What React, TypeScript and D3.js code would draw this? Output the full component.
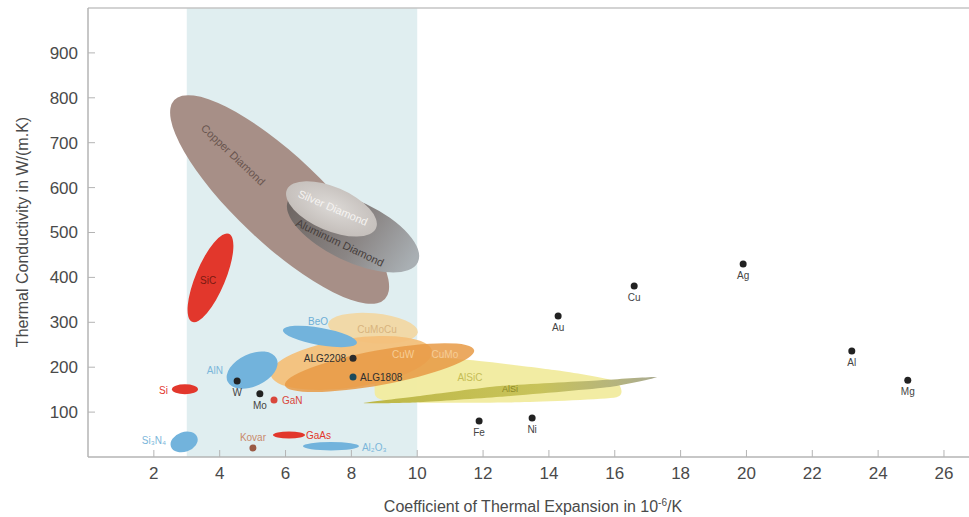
import React from "react";
import * as d3 from "d3";

// axis ticks
const xTicks = [2, 4, 6, 8, 10, 12, 14, 16, 18, 20, 22, 24, 26];
const yTicks = [100, 200, 300, 400, 500, 600, 700, 800, 900];

// shaded CTE window (semiconductor-matching range)
const bandFrom = 3;
const bandTo = 10;

// pure metals: CTE (10^-6/K) and conductivity (W/(m.K))
const metalNames = ["Fe", "Ni", "Au", "Cu", "Ag", "Al", "Mg", "W", "Mo"];
const metalCte = [11.88, 13.49, 14.28, 16.59, 19.9, 23.2, 24.9, 4.53, 5.22];
const metalK = [80, 87, 314, 381, 430, 236, 171, 169, 141];

// other single-value materials
const pointNames = ["GaN", "Kovar", "ALG2208", "ALG1808"];
const pointCte = [5.65, 5.01, 8.05, 8.05];
const pointK = [127, 20, 220, 178];

// elliptic property ranges, major axis from (cte0,k0) to (cte1,k1), breadth = minor/major
const regionNames = [
  "Copper Diamond", "Aluminum Diamond", "Silver Diamond", "SiC", "CuMoCu",
  "CuW", "CuMo", "BeO", "AlN", "Si", "Si3N4", "GaAs", "Al2O3",
];
const regionCte0 = [2.62, 6.08, 6.04, 3.16, 7.29, 5.55, 5.98, 5.92, 4.24, 2.55, 2.52, 5.62, 6.53];
const regionK0 = [795, 572, 595, 301, 296, 183, 160, 283, 168, 151, 23, 49, 24];
const regionCte1 = [9.02, 10.02, 8.75, 4.28, 10.02, 10.45, 11.73, 8.17, 5.73, 3.34, 3.32, 6.59, 8.23];
const regionK1 = [352, 434, 510, 497, 278, 236, 238, 254, 219, 151, 44, 49, 24];
const regionBreadth = [0.3, 0.42, 0.45, 0.31, 0.33, 0.3, 0.18, 0.23, 0.6, 0.38, 0.7, 0.22, 0.15];

// free-form ranges (outline points, cte / k)
const alsicCte = [9.02, 11.6, 14.34, 16.0, 16.05, 13.12, 9.48, 8.72];
const alsicK = [225, 216, 192, 169, 133, 122, 122, 138];
const alsiCte = [8.35, 10.09, 12.52, 15.55, 17.28, 15.86, 12.52, 10.09];
const alsiK = [120, 136, 158, 171, 178, 156, 134, 122];

// region labels
const labelNames = [
  "Copper Diamond", "Silver Diamond", "Aluminum Diamond", "SiC", "BeO", "CuMoCu", "CuW",
  "CuMo", "AlSiC", "AlSi", "AlN", "Si", "Si₃N₄", "GaAs", "Al₂O₃",
];
const labelCte = [4.41, 7.44, 7.65, 3.65, 6.99, 8.78, 9.57, 10.84, 11.6, 12.82, 4.1, 2.43, 2.37, 6.62, 8.32];
const labelK = [673, 555, 477, 394, 301, 285, 229, 229, 178, 151, 192, 149, 36, 47, 22];

const W = 969;
const H = 517;
const font = "'Liberation Sans', Arial, Helvetica, sans-serif";

const regionFill: Record<string, string> = {
  "Copper Diamond": "#a78f87",
  "Aluminum Diamond": "url(#alGrad)",
  "Silver Diamond": "url(#agGrad)",
  SiC: "#e2372c",
  CuMoCu: "#f1d9a8",
  CuW: "#f3c07a",
  CuMo: "#e89a45",
  BeO: "#72b3dc",
  AlN: "#72b3dc",
  Si: "#e2372c",
  Si3N4: "#72b3dc",
  GaAs: "#e2372c",
  Al2O3: "#72b3dc",
};
const regionOpacity: Record<string, number> = { CuW: 0.95, CuMo: 0.85 };

const labelStyle: Record<string, { fill: string; anchor: string; size: number; rot?: number }> = {
  "Copper Diamond": { fill: "#6a5650", anchor: "middle", size: 11, rot: 0 },
  "Silver Diamond": { fill: "#f6f4f2", anchor: "middle", size: 11, rot: 2 },
  "Aluminum Diamond": { fill: "#463e3c", anchor: "middle", size: 11, rot: 1 },
  SiC: { fill: "#7a1a12", anchor: "middle", size: 10 },
  BeO: { fill: "#6eaed6", anchor: "middle", size: 10 },
  CuMoCu: { fill: "#d8b47e", anchor: "middle", size: 10 },
  CuW: { fill: "#f6cd95", anchor: "middle", size: 10 },
  CuMo: { fill: "#f6cd95", anchor: "middle", size: 10 },
  AlSiC: { fill: "#c5bd55", anchor: "middle", size: 10 },
  AlSi: { fill: "#8d8826", anchor: "middle", size: 9 },
  AlN: { fill: "#7bb6da", anchor: "end", size: 10 },
  Si: { fill: "#e2372c", anchor: "end", size: 10 },
  "Si₃N₄": { fill: "#7bb6da", anchor: "end", size: 10 },
  GaAs: { fill: "#e2372c", anchor: "start", size: 10 },
  "Al₂O₃": { fill: "#7bb6da", anchor: "start", size: 10 },
};

const pointStyle: Record<string, { dot: string; text: string; anchor: string; dx: number; dy: number }> = {
  GaN: { dot: "#d9473c", text: "#d9473c", anchor: "start", dx: 8, dy: 4 },
  Kovar: { dot: "#9a5a44", text: "#c98a6c", anchor: "middle", dx: 0, dy: -7 },
  ALG2208: { dot: "#2b2b2b", text: "#2f2f2f", anchor: "end", dx: -7, dy: 3.5 },
  ALG1808: { dot: "#1c4a5c", text: "#2f2f2f", anchor: "start", dx: 7, dy: 3.5 },
};

export default function App() {
  const x = d3.scaleLinear().domain([0, 26.76]).range([88, 969]);
  const y = d3.scaleLinear().domain([0, 1000]).range([457, 8]);

  const regions = regionNames.map((name, i) => {
    const x1 = x(regionCte0[i]);
    const y1 = y(regionK0[i]);
    const x2 = x(regionCte1[i]);
    const y2 = y(regionK1[i]);
    const cx = (x1 + x2) / 2;
    const cy = (y1 + y2) / 2;
    const rx = Math.hypot(x2 - x1, y2 - y1) / 2;
    const angle = (Math.atan2(y2 - y1, x2 - x1) * 180) / Math.PI;
    return { name, cx, cy, rx, ry: rx * regionBreadth[i], angle };
  });

  const outline = d3
    .line<[number, number]>()
    .x((d) => x(d[0]))
    .y((d) => y(d[1]))
    .curve(d3.curveCardinalClosed.tension(0.4));

  const alsic = alsicCte.map((c, i) => [c, alsicK[i]] as [number, number]);
  const alsi = alsiCte.map((c, i) => [c, alsiK[i]] as [number, number]);

  const drawRegion = (name: string) => {
    const r = regions.find((d) => d.name === name)!;
    return (
      <ellipse
        key={name}
        cx={r.cx}
        cy={r.cy}
        rx={r.rx}
        ry={r.ry}
        fill={regionFill[name]}
        opacity={regionOpacity[name] ?? 1}
        transform={`rotate(${r.angle} ${r.cx} ${r.cy})`}
      />
    );
  };

  // rotated labels follow the tilt of their own region
  const labelAngle = (name: string) => {
    const r = regions.find((d) => d.name === name);
    return r ? r.angle : 0;
  };

  return (
    <svg
      width={W}
      height={H}
      style={{ position: "absolute", left: 0, top: 0, background: "#fff" }}
      fontFamily={font}
    >
      <defs>
        <linearGradient id="alGrad" gradientUnits="userSpaceOnUse" x1={x(6.1)} y1={y(520)} x2={x(10)} y2={y(470)}>
          <stop offset="0" stopColor="#6f6764" />
          <stop offset="0.55" stopColor="#8a8584" />
          <stop offset="1" stopColor="#a9afb3" />
        </linearGradient>
        <radialGradient id="agGrad" cx="0.5" cy="0.45" r="0.6">
          <stop offset="0" stopColor="#dcd9d6" />
          <stop offset="1" stopColor="#c2bcb8" />
        </radialGradient>
        <linearGradient id="alsiGrad" gradientUnits="userSpaceOnUse" x1={x(8.3)} y1="0" x2={x(17.3)} y2="0">
          <stop offset="0" stopColor="#bdb746" />
          <stop offset="0.6" stopColor="#c8c35a" />
          <stop offset="1" stopColor="#aaab92" />
        </linearGradient>
      </defs>

      {/* shaded CTE window */}
      <rect
        x={x(bandFrom)}
        y={y(1000)}
        width={x(bandTo) - x(bandFrom)}
        height={y(0) - y(1000)}
        fill="#e0eef0"
      />

      {drawRegion("Copper Diamond")}
      {drawRegion("Aluminum Diamond")}
      {drawRegion("Silver Diamond")}
      {drawRegion("SiC")}
      <path d={outline(alsic) ?? ""} fill="#f1eb9e" opacity={0.95} />
      <path d={outline(alsi) ?? ""} fill="url(#alsiGrad)" />
      {drawRegion("CuMoCu")}
      {drawRegion("CuW")}
      {drawRegion("CuMo")}
      {drawRegion("BeO")}
      {drawRegion("AlN")}
      {drawRegion("Si")}
      {drawRegion("Si3N4")}
      {drawRegion("GaAs")}
      {drawRegion("Al2O3")}

      {/* region labels */}
      {labelNames.map((name, i) => {
        const s = labelStyle[name];
        const lx = x(labelCte[i]);
        const ly = y(labelK[i]);
        const rot = s.rot !== undefined ? labelAngle(name) : 0;
        return (
          <text
            key={name}
            x={lx}
            y={ly}
            dy="0.35em"
            fontSize={s.size}
            fill={s.fill}
            textAnchor={s.anchor}
            transform={rot ? `rotate(${rot} ${lx} ${ly})` : undefined}
          >
            {name}
          </text>
        );
      })}

      {/* single-value points */}
      {pointNames.map((name, i) => {
        const s = pointStyle[name];
        const px = x(pointCte[i]);
        const py = y(pointK[i]);
        return (
          <g key={name}>
            <circle cx={px} cy={py} r={3.5} fill={s.dot} />
            <text x={px + s.dx} y={py + s.dy} fontSize={10} fill={s.text} textAnchor={s.anchor}>
              {name}
            </text>
          </g>
        );
      })}

      {metalNames.map((name, i) => {
        const px = x(metalCte[i]);
        const py = y(metalK[i]);
        return (
          <g key={name}>
            <circle cx={px} cy={py} r={3.5} fill="#222" />
            <text x={px} y={py + 15} fontSize={10} fill="#444" textAnchor="middle">
              {name}
            </text>
          </g>
        );
      })}

      {/* frame & axes */}
      <line x1={88} x2={W} y1={y(1000)} y2={y(1000)} stroke="#c4c4c4" strokeWidth={1.5} />
      <line x1={88} x2={88} y1={y(1000)} y2={y(0)} stroke="#b4b4b4" strokeWidth={1.5} />
      <line x1={88} x2={W} y1={y(0)} y2={y(0)} stroke="#b4b4b4" strokeWidth={1.5} />

      {yTicks.map((t) => (
        <g key={t}>
          <line x1={88} x2={95} y1={y(t)} y2={y(t)} stroke="#b4b4b4" />
          <text x={78} y={y(t)} dy="0.35em" fontSize={17} fill="#4a4a4a" textAnchor="end">
            {t}
          </text>
        </g>
      ))}
      {xTicks.map((t) => (
        <g key={t}>
          <line x1={x(t)} x2={x(t)} y1={y(0)} y2={y(0) - 7} stroke="#b4b4b4" />
          <text x={x(t)} y={479} fontSize={17} fill="#4a4a4a" textAnchor="middle">
            {t}
          </text>
        </g>
      ))}

      <text x={533} y={512} fontSize={16} fill="#4a4a4a" textAnchor="middle">
        Coefficient of Thermal Expansion in 10
        <tspan dy={-6} fontSize={10}>-6</tspan>
        <tspan dy={6}>/K</tspan>
      </text>
      <text transform="translate(28,232) rotate(-90)" fontSize={16} fill="#4a4a4a" textAnchor="middle">
        Thermal Conductivity in W/(m.K)
      </text>
    </svg>
  );
}
